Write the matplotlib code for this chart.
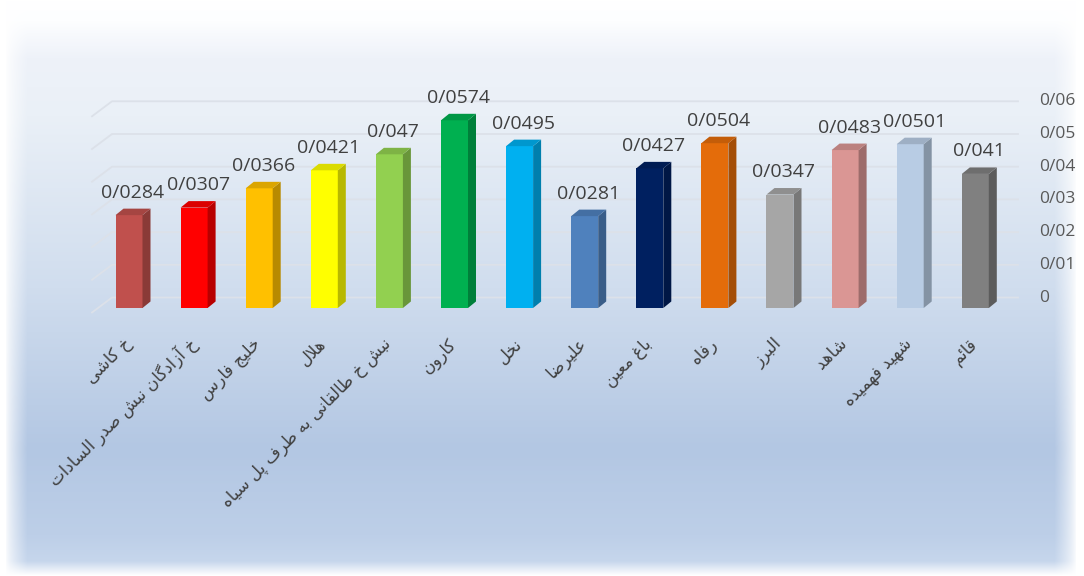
import numpy as np
import matplotlib
matplotlib.use("Agg")
import matplotlib.pyplot as plt
from matplotlib.patches import Polygon
from matplotlib.colors import to_rgb

# ---------------- data ----------------
categories = ["خ کاشی", "خ آزادگان نبش صدر السادات", "خلیج فارس", "هلال",
              "نبش خ طالقانی به طرف پل سیاه", "کارون", "نخل", "علیرضا",
              "باغ معین", "رفاه", "البرز", "شاهد", "شهید فهمیده", "قائم"]
values = [0.0284, 0.0307, 0.0366, 0.0421, 0.047, 0.0574, 0.0495, 0.0281,
          0.0427, 0.0504, 0.0347, 0.0483, 0.0501, 0.041]
bar_colors = ["#C0504D", "#FF0000", "#FFC000", "#FFFF00", "#92D050", "#00B050",
              "#00B0F0", "#4F81BD", "#002060", "#E46C0A", "#A6A6A6", "#DA9694",
              "#B8CCE4", "#808080"]
yticks = [0, 0.01, 0.02, 0.03, 0.04, 0.05, 0.06]

# ------------- minimal Arabic/Persian shaping -------------
FORMS = {
    'ا': ('\uFE8D', '\uFE8E', None, None), 'آ': ('\uFE81', '\uFE82', None, None),
    'ب': ('\uFE8F', '\uFE90', '\uFE91', '\uFE92'), 'ت': ('\uFE95', '\uFE96', '\uFE97', '\uFE98'),
    'ج': ('\uFE9D', '\uFE9E', '\uFE9F', '\uFEA0'), 'خ': ('\uFEA5', '\uFEA6', '\uFEA7', '\uFEA8'),
    'د': ('\uFEA9', '\uFEAA', None, None), 'ر': ('\uFEAD', '\uFEAE', None, None),
    'ز': ('\uFEAF', '\uFEB0', None, None), 'س': ('\uFEB1', '\uFEB2', '\uFEB3', '\uFEB4'),
    'ش': ('\uFEB5', '\uFEB6', '\uFEB7', '\uFEB8'), 'ص': ('\uFEB9', '\uFEBA', '\uFEBB', '\uFEBC'),
    'ض': ('\uFEBD', '\uFEBE', '\uFEBF', '\uFEC0'), 'ط': ('\uFEC1', '\uFEC2', '\uFEC3', '\uFEC4'),
    'ع': ('\uFEC9', '\uFECA', '\uFECB', '\uFECC'), 'غ': ('\uFECD', '\uFECE', '\uFECF', '\uFED0'),
    'ف': ('\uFED1', '\uFED2', '\uFED3', '\uFED4'), 'ق': ('\uFED5', '\uFED6', '\uFED7', '\uFED8'),
    'ل': ('\uFEDD', '\uFEDE', '\uFEDF', '\uFEE0'), 'م': ('\uFEE1', '\uFEE2', '\uFEE3', '\uFEE4'),
    'ن': ('\uFEE5', '\uFEE6', '\uFEE7', '\uFEE8'), 'ه': ('\uFEE9', '\uFEEA', '\uFEEB', '\uFEEC'),
    'و': ('\uFEED', '\uFEEE', None, None), 'ئ': ('\uFE89', '\uFE8A', '\uFE8B', '\uFE8C'),
    'پ': ('\uFB56', '\uFB57', '\uFB58', '\uFB59'), 'ک': ('\uFB8E', '\uFB8F', '\uFB90', '\uFB91'),
    'گ': ('\uFB92', '\uFB93', '\uFB94', '\uFB95'), 'ی': ('\uFBFC', '\uFBFD', '\uFBFE', '\uFBFF'),
}
LAMALEF = {'ا': ('\uFEFB', '\uFEFC'), 'آ': ('\uFEF5', '\uFEF6')}


def shape(text):
    out = []
    i = 0
    n = len(text)
    while i < n:
        c = text[i]
        if c not in FORMS:
            out.append(c)
            i += 1
            continue
        prev = text[i - 1] if i > 0 else ''
        cp = prev in FORMS and FORMS[prev][2] is not None
        if c == 'ل' and i + 1 < n and text[i + 1] in LAMALEF:
            out.append(LAMALEF[text[i + 1]][1 if cp else 0])
            i += 2
            continue
        nxt = text[i + 1] if i + 1 < n else ''
        cn = FORMS[c][2] is not None and nxt in FORMS
        f = FORMS[c]
        if cp and cn:
            g = f[3]
        elif cp:
            g = f[1]
        elif cn:
            g = f[2]
        else:
            g = f[0]
        out.append(g)
        i += 1
    return ''.join(out)[::-1]


# ---------------- figure ----------------
W, H = 1084, 576
fig = plt.figure(figsize=(W / 100, H / 100), dpi=100)

# background gradient
bg = fig.add_axes([0, 0, 1, 1])
bg.set_axis_off()
yy = np.linspace(0, 1, H)[:, None]
stops_y = [0.0, 0.035, 0.1, 0.2, 0.5, 0.78, 0.93, 0.975, 1.0]
stops_c = [(255, 255, 255), (253, 254, 255), (238, 242, 249), (234, 240, 247),
           (208, 221, 238), (179, 199, 227), (189, 207, 232), (198, 214, 236), (255, 255, 255)]
img = np.zeros((H, W, 3))
for k in range(3):
    col = np.interp(yy[:, 0], stops_y, [c[k] / 255 for c in stops_c])
    img[:, :, k] = col[:, None]
xx = np.arange(W)
edge = np.clip(np.minimum(xx - 5, W - 8 - xx) / 22.0, 0, 1)
edge = edge ** 0.7
img = img * edge[None, :, None] + (1 - edge[None, :, None]) * 1.0
bg.imshow(img, extent=[0, 1, 0, 1], aspect='auto', zorder=0)
bg.set_xlim(0, 1)
bg.set_ylim(0, 1)

# main axes: category i centred at px 129 + 65.1*i, value 0 at px 308, 0.01 = 32.7 px
step = 65.1
x0px = 129 - 0.5 * step
x1px = 129 + 13.5 * step
ymax = 0.066
ppu = 3270.0
base_px = 308
ax = fig.add_axes([x0px / W, (H - base_px) / H, (x1px - x0px) / W, ymax * ppu / H])
ax.set_xlim(-0.5, 13.5)
ax.set_ylim(0, ymax)
ax.set_axis_off()
ax.patch.set_alpha(0)

x = np.arange(len(values))
bw = 27 / step
dx = 8 / step
dy = 6.5 / ppu

# back-wall gridlines + right tick labels
back = 10.5 / ppu
gl_left = -0.5 + (112 - x0px) / step
gl_right = -0.5 + (1018 - x0px) / step
for t in yticks:
    yb = t + back
    ax.plot([gl_left - 20 / step, gl_left, gl_right], [yb - 15 / ppu, yb, yb],
            color="#DCE1E9", lw=1.3, clip_on=False, zorder=1)
    lab = "0" if t == 0 else f"{t:.2f}".replace('.', '/')
    ax.text(-0.5 + (1039 - x0px) / step, yb, lab, ha='left', va='center',
            fontsize=12.5, color="#595959", family=["Open Sans", "DejaVu Sans"],
            clip_on=False)


def shade(c, f):
    r, g, b = to_rgb(c)
    return (r * f, g * f, b * f)


bars = ax.bar(x, values, width=bw, color=bar_colors, zorder=3, linewidth=0)
for xi, v, c in zip(x, values, bar_colors):
    side = Polygon([(xi + bw / 2, 0), (xi + bw / 2 + dx, dy), (xi + bw / 2 + dx, v + dy),
                    (xi + bw / 2, v)], closed=True, fc=shade(c, 0.72), ec='none', zorder=3)
    top = Polygon([(xi - bw / 2, v), (xi + bw / 2, v), (xi + bw / 2 + dx, v + dy),
                   (xi - bw / 2 + dx, v + dy)], closed=True, fc=shade(c, 0.86), ec='none', zorder=3)
    ax.add_patch(side)
    ax.add_patch(top)
    ax.annotate(f"{v:g}".replace('.', '/'), (xi + dx / 2, v + dy), xytext=(0, 5),
                textcoords='offset points', ha='center', va='bottom', fontsize=14,
                color="#404040", family=["Open Sans", "DejaVu Sans"], zorder=5,
                annotation_clip=False)

# category labels
for xi, name in zip(x, categories):
    ax.text(xi - 0.01, -(341 - base_px) / ppu, shape(name), rotation=45,
            rotation_mode='anchor', ha='right', va='center', fontsize=12,
            color="#404040", family=["DejaVu Sans", "Noto Sans"], clip_on=False)

fig.savefig("out.png", dpi=100)
